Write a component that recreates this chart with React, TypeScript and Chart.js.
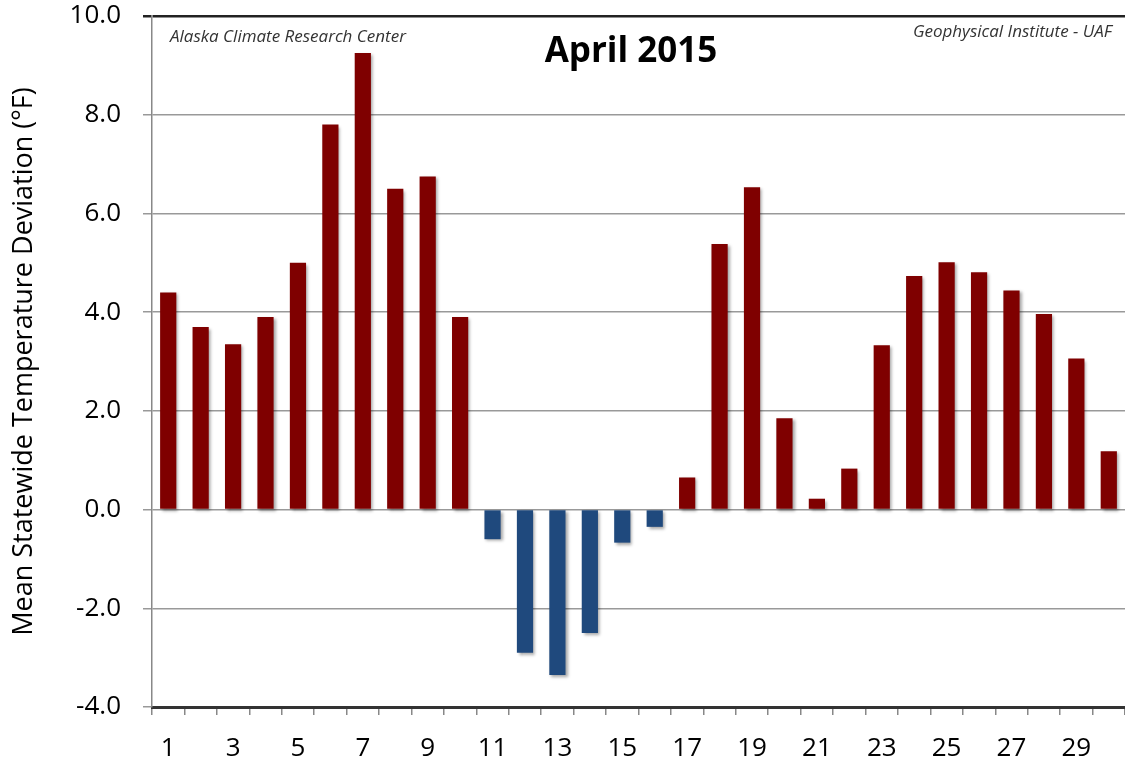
import React, { useEffect, useRef } from "react";
import { Chart, registerables } from "chart.js";

Chart.register(...registerables);

const days: string[] = Array.from({ length: 30 }, (_, i) => String(i + 1));
const deviations: number[] = [
  4.4, 3.7, 3.35, 3.9, 5.0, 7.8, 9.25, 6.5, 6.75, 3.9,
  -0.6, -2.9, -3.35, -2.5, -0.67, -0.35, 0.65, 5.38, 6.53, 1.85,
  0.22, 0.83, 3.33, 4.73, 5.01, 4.81, 4.44, 3.96, 3.06, 1.18,
];
const chartTitle = "April 2015";
const leftNote = "Alaska Climate Research Center";
const rightNote = "Geophysical Institute - UAF";
const yTitle = "Mean Statewide Temperature Deviation (°F)";

const WARM = "#7f0000";
const COLD = "#1f497d";

const overlayPlugin = {
  id: "overlay",
  beforeDatasetsDraw(chart: any) {
    const ctx = chart.ctx;
    ctx.save();
    ctx.shadowColor = "rgba(0,0,0,0.35)";
    ctx.shadowOffsetX = 2;
    ctx.shadowOffsetY = 2;
    ctx.shadowBlur = 3;
  },
  afterDatasetsDraw(chart: any) {
    const ctx = chart.ctx;
    ctx.restore();
    ctx.save();
    ctx.fillStyle = "#000";
    ctx.textAlign = "center";
    ctx.textBaseline = "middle";
    ctx.font = "bold 35px 'Open Sans'";
    ctx.fillText(chartTitle, 631, 52);
    ctx.fillStyle = "#333";
    ctx.font = "italic 17px 'Open Sans'";
    ctx.textAlign = "left";
    ctx.fillText(leftNote, 170, 37);
    ctx.textAlign = "right";
    ctx.fillText(rightNote, 1112, 32);
    ctx.restore();
  },
};

export default function App() {
  const ref = useRef<HTMLCanvasElement | null>(null);
  useEffect(() => {
    if (!ref.current) return;
    const chart = new Chart(ref.current, {
      type: "bar",
      data: {
        labels: days,
        datasets: [
          {
            data: deviations,
            backgroundColor: deviations.map((v) => (v >= 0 ? WARM : COLD)),
            borderWidth: 0,
            categoryPercentage: 1,
            barPercentage: 0.5,
          },
        ],
      },
      options: {
        animation: false,
        responsive: false,
        maintainAspectRatio: false,
        layout: { padding: { top: 16, right: -5, left: 0, bottom: 0 } },
        plugins: { legend: { display: false }, tooltip: { enabled: false }, title: { display: false } },
        scales: {
          x: {
            grid: {
              offset: true,
              drawOnChartArea: false,
              drawTicks: true,
              tickLength: 8,
              color: "#888",
              lineWidth: 1.5,
            },
            border: { display: true, color: "#333", width: 3 },
            ticks: {
              autoSkip: false,
              maxRotation: 0,
              padding: 18,
              color: "#000",
              font: { family: "'Open Sans'", size: 26 },
              callback: (_v: any, i: number) => (i % 2 === 0 ? days[i] : ""),
            },
            afterFit: (s: any) => {
              s.height = 56;
              s.paddingLeft = 0;
              s.paddingRight = 0;
            },
          },
          y: {
            min: -4,
            max: 10,
            ticks: {
              stepSize: 2,
              padding: 22,
              color: "#000",
              font: { family: "'Open Sans'", size: 26 },
              callback: (v: any) => Number(v).toFixed(1),
            },
            grid: {
              color: (c: any) => (c.tick && c.tick.value === 10 ? "#222" : "#999"),
              lineWidth: (c: any) => (c.tick && c.tick.value === 10 ? 2.5 : 1.5),
              tickLength: 9,
            },
            border: { display: true, color: "#888", width: 1.5 },
            title: {
              display: true,
              text: yTitle,
              color: "#000",
              font: { family: "'Open Sans'", size: 27 },
              padding: { top: 8, bottom: 0 },
            },
            afterFit: (s: any) => {
              s.width = 152;
              s.paddingTop = 0;
              s.paddingBottom = 0;
            },
          },
        },
      },
      plugins: [overlayPlugin],
    });
    return () => chart.destroy();
  }, []);
  return (
    <div style={{ position: "absolute", left: 0, top: 0, width: 1125, height: 763, background: "#fff" }}>
      <canvas ref={ref} width={1125} height={763} style={{ width: 1125, height: 763 }} />
    </div>
  );
}
